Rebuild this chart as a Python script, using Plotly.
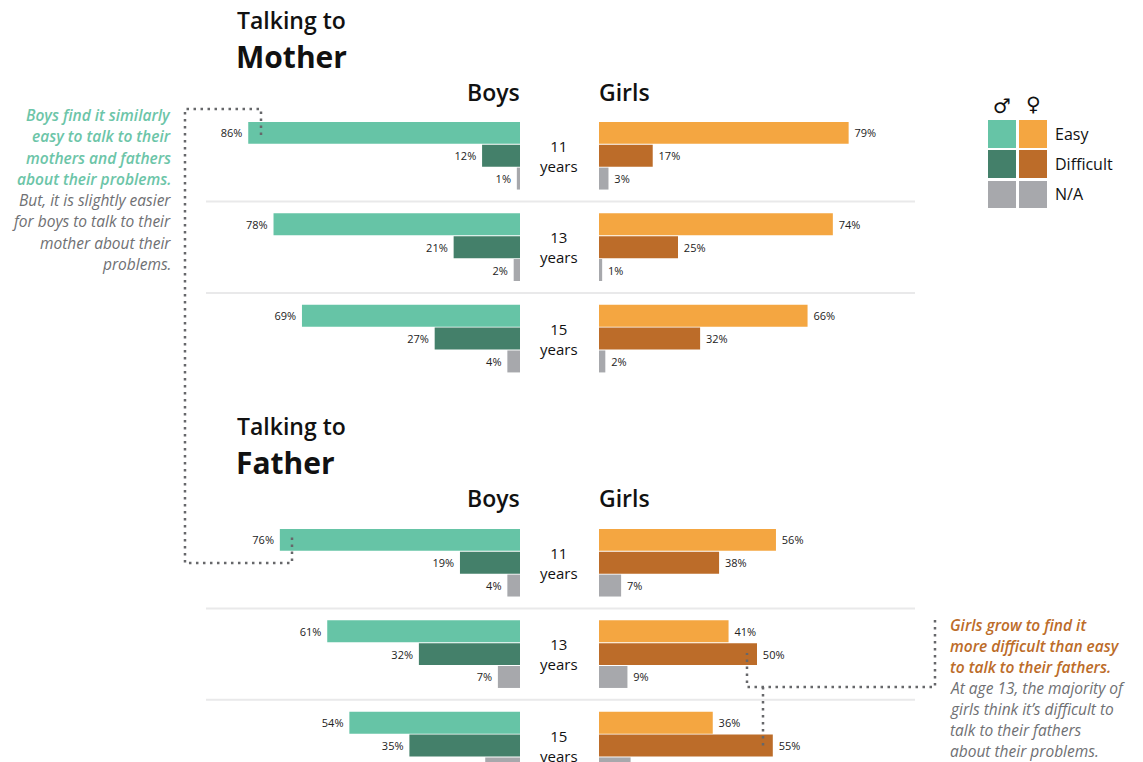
import plotly.graph_objects as go

W, H = 1143, 762
FONT = "Open Sans"

ages = ["11", "13", "15"]
measures = ["Easy", "Difficult", "N/A"]

mother_boys = [[86, 12, 1], [78, 21, 2], [69, 27, 4]]
mother_girls = [[79, 17, 3], [74, 25, 1], [66, 32, 2]]
father_boys = [[76, 19, 4], [61, 32, 7], [54, 35, 11]]
father_girls = [[56, 38, 7], [41, 50, 9], [36, 55, 10]]

boys_colors = ["#66C4A6", "#44806A", "#A7A8AC"]
girls_colors = ["#F4A641", "#BC6C29", "#A7A8AC"]

note_boys_lead = ["Boys find it similarly", "easy to talk to their", "mothers and fathers", "about their problems."]
note_boys_rest = ["But, it is slightly easier", "for boys to talk to their", "mother about their", "problems."]
note_girls_lead = ["Girls grow to find it", "more difficult than easy", "to talk to their fathers."]
note_girls_rest = ["At age 13, the majority of", "girls think it\u2019s difficult to", "talk to their fathers", "about their problems."]


def px(x):
    return x / W


def py(y):
    return 1 - y / H


def flat(groups):
    rows, vals, cols_idx = [], [], []
    for g, group in enumerate(groups):
        for m, v in enumerate(group):
            rows.append(g * 4 + m)
            vals.append(v)
            cols_idx.append(m)
    return rows, vals, cols_idx


fig = go.Figure()
panels = [
    (mother_boys, boys_colors, "x", "y", "left"),
    (mother_girls, girls_colors, "x2", "y", "right"),
    (father_boys, boys_colors, "x3", "y2", "left"),
    (father_girls, girls_colors, "x4", "y2", "right"),
]
for groups, colors, xa, ya, side in panels:
    rows, vals, idx = flat(groups)
    labels = [f"{v}%\u00a0" if side == "left" else f"\u00a0{v}%" for v in vals]
    fig.add_trace(go.Bar(
        x=vals, y=rows, orientation="h", xaxis=xa, yaxis=ya, width=0.96,
        marker=dict(color=[colors[i] for i in idx], line=dict(width=0)),
        text=labels, textposition="outside", cliponaxis=False,
        textfont=dict(family=FONT, size=11, color="#222222"),
        hoverinfo="skip", showlegend=False,
    ))

SCALE_RANGE = 100
bx = dict(visible=False, fixedrange=True)
layout_axes = dict(
    xaxis=dict(domain=[px(204), px(520)], range=[SCALE_RANGE, 0], anchor="y", **bx),
    xaxis2=dict(domain=[px(599), px(915)], range=[0, SCALE_RANGE], anchor="y", **bx),
    xaxis3=dict(domain=[px(204), px(520)], range=[SCALE_RANGE, 0], anchor="y2", **bx),
    xaxis4=dict(domain=[px(599), px(915)], range=[0, SCALE_RANGE], anchor="y2", **bx),
    yaxis=dict(domain=[py(385), py(110)], range=[11.03, -1.0], **bx),
    yaxis2=dict(domain=[py(762), py(517)], range=[9.72, -1.0], **bx),
)

ann = []


def text(x, y, s, size, color="#111111", xanchor="left", align="left", yref="paper",
         font=FONT, weight="normal", style="normal"):
    ann.append(dict(
        x=px(x), y=(py(y) if yref == "paper" else y), xref="paper", yref=yref, text=s,
        showarrow=False, xanchor=xanchor, yanchor="middle", align=align,
        font=dict(family=font, size=size, color=color, weight=weight, style=style),
    ))


for top, who, yref in [(20, "Mother", "y"), (426, "Father", "y2")]:
    text(235, top, "Talking to", 23, weight=600)
    text(234, top + 37, who, 30, weight=700)
    text(521.5, top + 71.5, "Boys", 23, xanchor="right", align="right", weight=600)
    text(597, top + 71.5, "Girls", 23, weight=600)
    for g, age in enumerate(ages):
        text(559, g * 4 + 1, f"{age}<br>years", 15, xanchor="center", align="center", yref=yref)

GREEN, ORANGE, GREY = "#6CC5A8", "#BC6C29", "#6F7073"


def note(x, ys, lines, color, xanchor, align, weight):
    for y, line in zip(ys, lines):
        text(x, y, line, 15.5, color=color, xanchor=xanchor, align=align, weight=weight, style="italic")


note(172.5, [115, 136, 158, 179], note_boys_lead, GREEN, "right", "right", 600)
note(172.5, [200, 221, 243, 264], note_boys_rest, GREY, "right", "right", "normal")
note(947.5, [625, 646, 667], note_girls_lead, ORANGE, "left", "left", 600)
note(947.5, [688, 709, 730, 751], note_girls_rest, GREY, "left", "left", "normal")

for label, y in zip(measures, [134, 164, 194]):
    text(1053, y, label, 16)
text(1002, 106, "\u2642", 20, font="DejaVu Sans", xanchor="center", align="center")
text(1033, 104, "\u2640", 20, font="DejaVu Sans", xanchor="center", align="center")

shapes = []
for yr in ["y", "y2"]:
    for row in [3, 7]:
        shapes.append(dict(type="line", xref="paper", yref=yr, x0=px(206), x1=px(915), y0=row, y1=row,
                           line=dict(color="#E9E9EA", width=2), layer="below"))

for cols, x0 in [(boys_colors, 988), (girls_colors, 1019)]:
    for c, (y0, y1) in zip(cols, [(120, 148), (150, 178), (181, 208)]):
        shapes.append(dict(type="rect", xref="paper", yref="paper", x0=px(x0), x1=px(x0 + 28),
                           y0=py(y1), y1=py(y0), fillcolor=c, line=dict(width=0)))


def dotted(points):
    path = "M " + " L ".join(f"{px(x):.5f},{py(y):.5f}" for x, y in points)
    shapes.append(dict(type="path", xref="paper", yref="paper", path=path,
                       line=dict(color="#66676A", width=2.5, dash="2.5px,4.5px")))


dotted([(261, 135), (261, 109), (185, 109), (185, 563), (292, 563), (292, 536)])
dotted([(935, 620), (935, 687), (747, 687), (747, 653)])
dotted([(763, 687), (763, 747)])

fig.update_layout(
    width=W, height=H, margin=dict(l=0, r=0, t=0, b=0), paper_bgcolor="white", plot_bgcolor="rgba(0,0,0,0)",
    showlegend=False, barmode="overlay", annotations=ann, shapes=shapes, **layout_axes,
)
fig.write_html("out.html", config=dict(displayModeBar=False),
               post_script="document.body.style.margin='0';document.body.style.overflow='hidden';")
